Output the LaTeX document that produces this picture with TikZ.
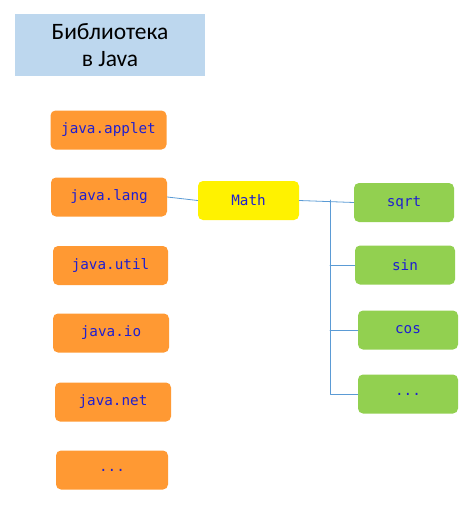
\documentclass[tikz,border=0pt]{standalone}
\usepackage{fontspec}
\setmainfont{Carlito}
\setmonofont{DejaVu Sans Mono}
\definecolor{titlebg}{HTML}{BDD7EE}
\definecolor{pkgfill}{HTML}{FF9933}
\definecolor{funfill}{HTML}{92D050}
\definecolor{wire}{HTML}{5B9BD5}
\definecolor{codeblue}{HTML}{1F1FD0}
\begin{document}
\begin{tikzpicture}[x=1pt,y=-1pt,line cap=round,line join=round,
  box/.style={rounded corners=5pt,minimum height=39pt,inner sep=0pt,
    font=\ttfamily\fontsize{14.3}{16}\selectfont,text=codeblue},
  pkg/.style={box,fill=pkgfill,minimum width=116pt},
  fun/.style={box,fill=funfill,minimum width=100pt},
  wireline/.style={draw=wire,line width=0.8pt}]
  \useasboundingbox (0,0) rectangle (474,506);
  \node[fill=titlebg,minimum width=190pt,minimum height=62pt,align=center,
    font=\fontsize{23.5}{27}\selectfont] (title) at (110,45) {Библиотека\\в Java};
  \node[pkg] (applet) at (108.5,130) {java.applet};
  \node[pkg] (lang) at (109,197) {java.lang};
  \node[pkg,minimum width=115pt] (util) at (110.5,265.5) {java.util};
  \node[pkg] (io) at (111,333) {java.io};
  \node[pkg] (net) at (113,402) {java.net};
  \node[pkg,minimum width=112pt] (pdots) at (112,470) {...};
  \node[box,fill=yellow,minimum width=101pt] (math) at (248.5,200.5) {Math};
  \node[fun] (sqrt) at (404,202.5) {sqrt};
  \node[fun] (sin) at (405,265) {sin};
  \node[fun] (cos) at (408,330) {cos};
  \node[fun] (mdots) at (408,394) {...};
  \coordinate (bus) at (330,200);
  \draw[wireline] (lang.east) -- (math.west);
  \draw[wireline] (math.east) -- (sqrt.west);
  \draw[wireline] (bus) -- (bus |- mdots.west) -- (mdots.west);
  \draw[wireline] (bus |- sin.west) -- (sin.west);
  \draw[wireline] (bus |- cos.west) -- (cos.west);
\end{tikzpicture}
\end{document}
